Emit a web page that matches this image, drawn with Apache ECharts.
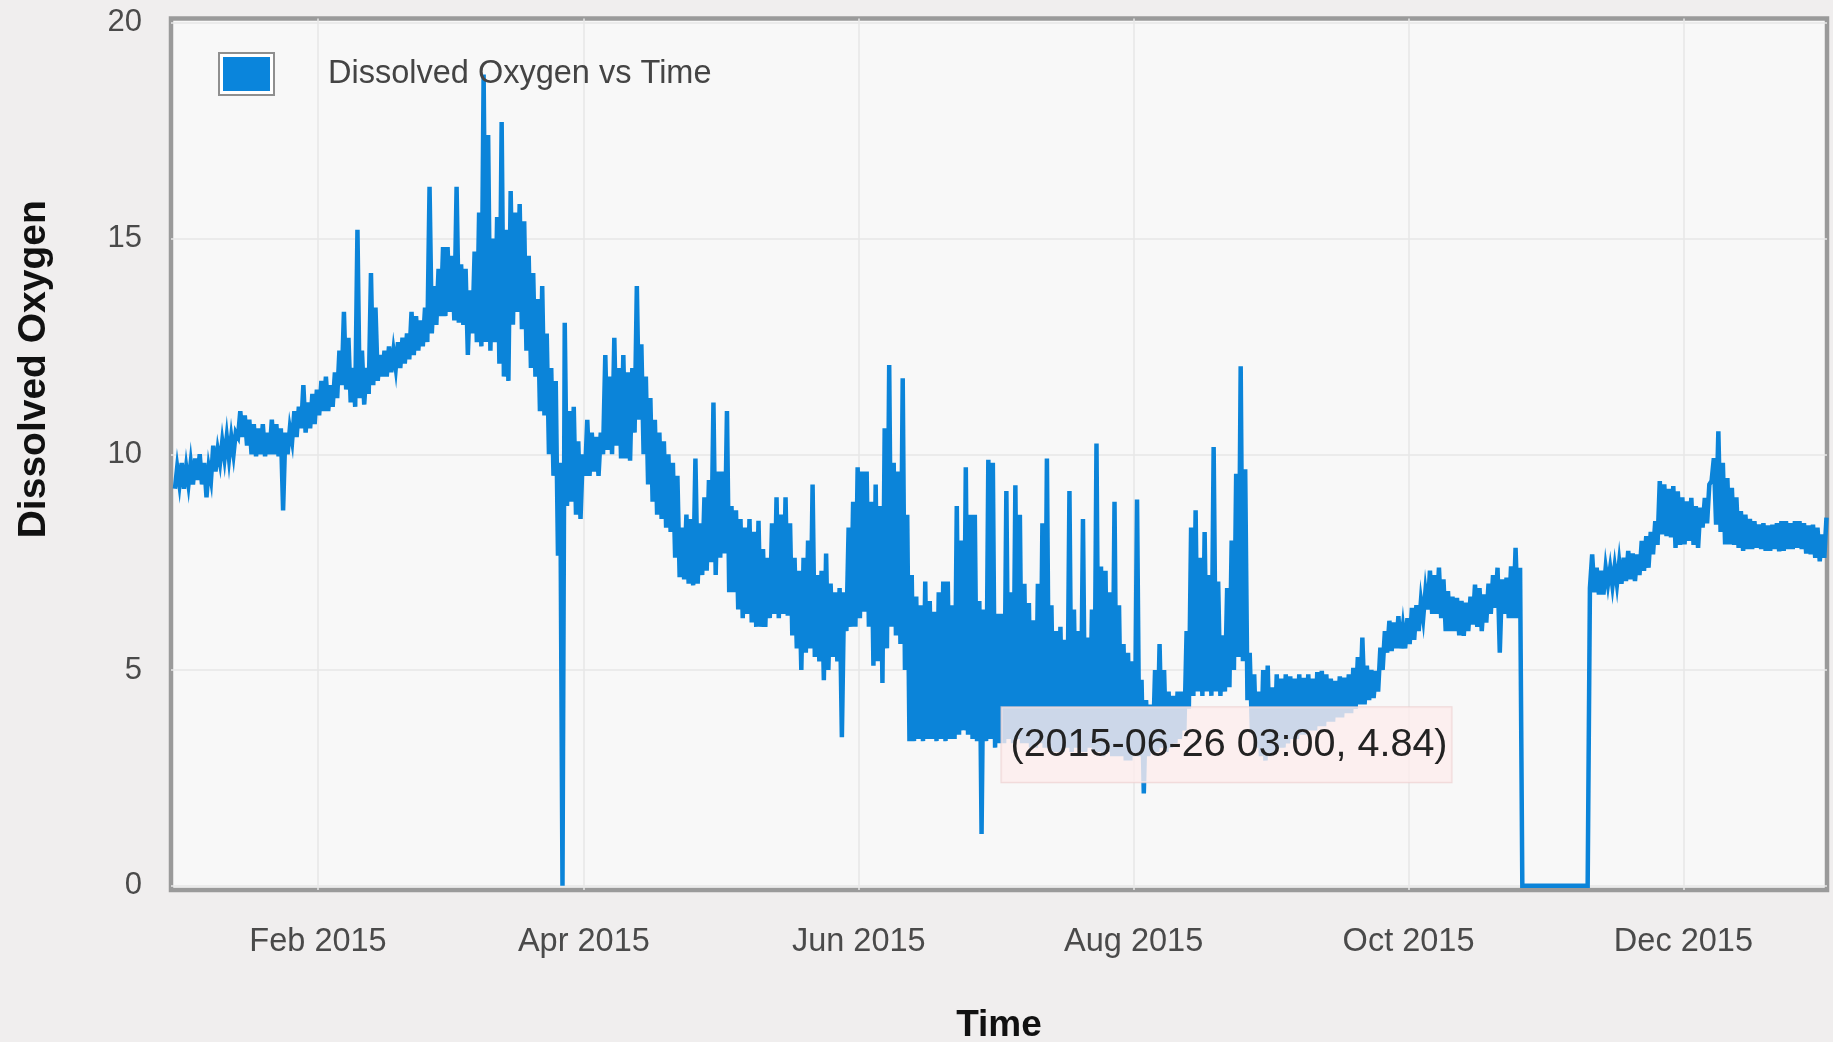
<!DOCTYPE html>
<html>
<head>
<meta charset="utf-8">
<script src="https://cdn.jsdelivr.net/npm/echarts@6/dist/echarts.min.js"></script>
<style>
html,body{margin:0;padding:0;background:#f0eeee;}
#chart{width:1833px;height:1042px;}
</style>
</head>
<body>
<div id="chart"></div>
<script>
// ---------- data ----------
const seriesName = 'Dissolved Oxygen vs Time';
const xAxisTitle = 'Time';
const yAxisTitle = 'Dissolved Oxygen';
const firstDay = '2014-12-31';          // first day of the daily readings
const xMin = '2014-12-30T09:00:00Z';
const xMax = '2016-01-01T20:40:00Z';

// daily low / high readings, Dec 31 2014 .. Jan 1 2016
const dailyLow = [
  9.2,
  // Jan
  9.3,9.2,9.3,9.3,9.4,9.3,9.0,9.4,9.6,9.8, 9.9,9.9,10.0,10.4,10.4,10.2,10.0,9.95,10.0,9.95, 10.0,10.0,9.95,8.7,10.0,10.3,10.4,10.6,10.5,10.6, 10.7,
  // Feb
  10.9,11.0,11.0,11.1,11.3,11.6,11.5,11.2,11.1,11.3, 11.15,11.4,11.6,11.7,11.8,11.8,11.9,12.0,12.0,12.1, 12.2,12.3,12.4,12.5,12.6,12.8,13.0,13.2,
  // Mar
  13.2,13.3,13.1,13.05,13.0,12.3,12.8,12.6,12.5,12.6, 12.4,12.6,12.1,11.8,11.7,13.0,13.3,12.9,12.4,12.0, 11.8,11.0,10.9,10.0,9.5,7.65,0,8.8,8.9,8.6, 8.5,
  // Apr
  9.5,9.5,9.6,9.5,10.0,10.1,10.0,10.2,9.9,9.9, 9.85,10.5,10.8,10.0,9.3,8.9,8.6,8.5,8.3,8.2, 7.6,7.15,7.1,7.0,6.96,7.0,7.2,7.3,7.5,7.2,
  // May
  7.6,7.7,6.8,6.8,6.4,6.2,6.3,6.1,6.0,6.0, 6.0,6.2,6.3,6.2,6.3,6.26,5.8,5.5,5.0,5.4, 5.5,5.3,5.2,4.76,5.0,5.3,5.2,3.44,5.9,6.0, 6.0,
  // Jun
  6.2,6.35,6.0,5.1,5.2,4.7,5.5,6.0,5.8,5.6, 5.0,3.35,3.35,3.4,3.35,3.4,3.4,3.35,3.4,3.35, 3.4,3.4,3.5,3.6,3.5,3.4,3.35,1.2,3.35,3.4,
  // Jul
  3.2,3.3,3.3,3.4,3.3,3.4,3.3,3.3,3.2,3.2, 3.3,3.2,3.2,3.1,3.1,3.1,3.2,3.1,3.2,3.1, 3.1,3.2,3.1,3.1,3.0,3.1,3.0,3.0,3.0,2.9, 2.9,
  // Aug
  3.0,3.0,2.14,3.0,3.1,3.1,3.2,3.1,3.2,3.3, 3.4,3.6,4.1,4.4,4.5,4.4,4.5,4.4,4.5,4.4, 4.5,4.6,5.0,5.3,5.2,4.3,3.6,3.2,3.0,2.9, 3.0,
  // Sep
  3.1,3.2,3.2,3.3,3.4,3.4,3.5,3.5,3.6,3.6, 3.7,3.7,3.8,3.8,3.9,3.9,4.0,4.0,4.1,4.2, 4.2,4.3,4.35,4.5,5.0,5.4,5.44,5.5,5.5,5.5,
  // Oct
  5.6,5.7,5.9,6.2,6.4,6.3,6.3,6.2,5.9,5.9, 5.9,5.8,5.79,5.9,6.05,6.0,5.9,6.1,6.3,6.44, 5.4,6.3,6.2,6.2,6.2,0,0,0,0,0, 0,
  // Nov
  0,0,0,0,0,0,0,0,0,6.9, 6.8,6.75,6.75,6.99,6.95,6.99,7.0,7.06,7.1,7.06, 7.2,7.3,7.37,7.68,7.9,8.14,8.1,8.07,7.83,7.9,
  // Dec
  7.91,7.99,7.9,7.83,8.3,8.4,9.38,8.37,8.2,7.91, 7.91,7.9,7.83,7.76,7.8,7.8,7.83,7.8,7.76,7.76, 7.8,7.75,7.76,7.8,7.8,7.83,7.8,7.7,7.68,7.6, 7.52,
  // Jan 1 2016
  7.6
];
const dailyHigh = [
  9.7,
  // Jan
  9.8,9.7,9.8,9.9,10.0,9.8,9.7,10.2,10.1,10.3, 10.4,10.4,10.5,11.0,10.9,10.8,10.7,10.6,10.7,10.5, 10.8,10.7,10.6,10.5,10.6,11.0,11.1,11.6,11.2,11.4, 11.5,
  // Feb
  11.7,11.8,11.6,11.9,12.4,13.3,12.7,12.0,15.2,12.4, 12.0,14.2,13.4,12.3,12.4,12.5,12.4,12.6,12.7,12.8, 13.3,13.2,13.1,13.4,16.2,13.9,14.3,14.8,
  // Mar
  14.8,14.6,16.2,14.4,14.3,13.8,14.7,15.6,18.8,17.4, 15.0,15.5,17.7,15.2,16.1,15.6,15.8,15.4,14.6,14.2, 13.6,13.9,12.8,12.0,11.7,9.8,13.05,11.0,11.1,10.3, 10.0,
  // Apr
  10.8,10.5,10.4,10.5,12.3,11.8,12.7,12.0,12.3,11.9, 12.0,13.9,12.55,11.8,11.3,10.8,10.5,10.3,10.0,9.8, 9.5,8.3,8.6,8.5,9.9,8.4,9.0,9.4,11.2,9.6,
  // May
  9.6,11.0,8.8,8.7,8.5,8.3,8.5,8.2,8.46,7.8, 7.6,8.4,9.0,8.6,9.0,8.4,7.6,7.3,7.6,8.0, 9.3,7.2,7.3,7.7,7.0,6.8,6.9,6.8,8.3,8.9, 9.7,
  // Jun
  9.6,9.6,8.9,9.3,8.8,10.6,12.07,9.8,9.6,11.76, 8.6,7.2,6.7,6.5,7.05,6.6,6.35,6.8,7.05,7.05, 6.5,8.8,8.0,9.7,8.6,8.6,6.6,6.4,9.87,9.8,
  // Jul
  6.3,6.3,9.15,6.8,9.28,8.6,7.0,6.55,6.15,7.0, 8.4,9.9,6.5,5.9,6.0,5.7,9.15,6.4,5.9,8.5, 5.75,6.4,10.25,7.4,7.3,6.8,8.9,6.5,5.6,5.4, 5.2,
  // Aug
  8.95,4.77,4.3,4.2,5.0,5.6,5.0,4.5,4.4,4.5, 4.5,5.9,8.3,8.7,7.6,8.2,7.2,10.17,7.05,5.8, 6.9,8.0,9.55,12.04,9.65,5.4,4.9,4.5,5.0,5.1, 4.6,
  // Sep
  4.9,4.8,4.9,4.85,4.8,4.9,4.82,4.9,4.8,4.95, 4.98,4.9,4.8,4.75,4.85,4.82,4.9,5.05,5.3,5.75, 5.1,5.0,4.98,5.52,5.9,6.14,6.1,6.25,6.0,6.2,
  // Oct
  6.44,6.5,6.6,6.83,7.3,7.2,7.37,7.1,6.83,6.7, 6.67,6.6,6.56,6.7,6.98,6.9,6.75,7.0,7.2,7.37, 7.1,7.14,7.4,7.83,7.37,0,0,0,0,0, 0,
  // Nov
  0,0,0,0,0,0,0,0,0,7.68, 7.37,7.3,7.37,7.37,7.4,7.5,7.6,7.76,7.7,7.68, 7.99,8.1,8.2,8.45,9.38,9.3,9.2,9.26,9.14,9.0,
  // Dec
  8.91,8.99,8.8,8.76,8.99,9.3,9.91,10.53,9.8,9.45, 9.22,9.0,8.68,8.6,8.5,8.45,8.37,8.4,8.35,8.37, 8.4,8.45,8.45,8.4,8.45,8.45,8.4,8.35,8.37,8.3, 8.14,
  // Jan 1 2016
  8.53
];

const xTickDates = ['2015-02-01','2015-04-01','2015-06-01','2015-08-01','2015-10-01','2015-12-01'];
const xTickLabels = ['Feb 2015','Apr 2015','Jun 2015','Aug 2015','Oct 2015','Dec 2015'];
const yTicks = [0, 5, 10, 15, 20];

const tooltipTime = '2015-06-26 03:00';
const tooltipValue = 4.84;

// ---------- build ----------
const DAY = 86400000;
const t0 = Date.parse(firstDay + 'T00:00:00Z');
const n = Math.min(dailyLow.length, dailyHigh.length);
const points = [];
for (let i = 0; i < n; i++) {
  points.push([t0 + i * DAY + DAY * 0.25, dailyLow[i]]);
  points.push([t0 + i * DAY + DAY * 0.75, dailyHigh[i]]);
}
const xTickTs = xTickDates.map(d => Date.parse(d + 'T00:00:00Z'));
const tipTs = Date.parse(tooltipTime.replace(' ', 'T') + ':00Z');

const FONT = '"Liberation Sans", Arial, Helvetica, sans-serif';
const legendIcon = 'image://data:image/svg+xml;utf8,' + encodeURIComponent(
  '<svg xmlns="http://www.w3.org/2000/svg" width="57" height="44" viewBox="0 0 57 44">' +
  '<rect x="1" y="1" width="55" height="42" fill="#ffffff" stroke="#8f8f8f" stroke-width="2"/>' +
  '<rect x="5" y="5" width="47" height="34" fill="#0a85dc"/></svg>');

const chart = echarts.init(document.getElementById('chart'), null, {renderer: 'canvas'});
chart.setOption({
  animation: false,
  backgroundColor: '#f0eeee',
  textStyle: {fontFamily: FONT},
  grid: {
    left: 171, right: 6, top: 18.5, bottom: 152,
    outerBoundsMode: 'none',
    containLabel: false,
    show: true, backgroundColor: '#f8f8f8',
    borderColor: '#9a9a9a', borderWidth: 4.5
  },
  legend: {
    left: 213, top: 47,
    itemWidth: 57, itemHeight: 44,
    icon: legendIcon,
    data: [seriesName],
    textStyle: {fontSize: 32.5, color: '#444444', fontFamily: FONT, padding: [0, 0, 0, 48]}
  },
  xAxis: {
    type: 'value',
    min: Date.parse(xMin), max: Date.parse(xMax),
    name: xAxisTitle, nameLocation: 'middle', nameGap: 117,
    nameTextStyle: {fontSize: 37, fontWeight: 'bold', color: '#111111', fontFamily: FONT},
    axisLine: {show: false},
    axisTick: {show: false, customValues: xTickTs},
    axisLabel: {
      customValues: xTickTs,
      fontSize: 32.5, color: '#4a4a4a', margin: 36, fontFamily: FONT,
      formatter: function (v) {
        const i = xTickTs.indexOf(+v);
        return i >= 0 ? xTickLabels[i] : '';
      }
    },
    splitLine: {show: true, lineStyle: {color: '#e7e7e7', width: 1.5}}
  },
  yAxis: {
    type: 'value',
    min: -0.1, max: 20.1,
    name: yAxisTitle, nameLocation: 'middle', nameRotate: 90, nameGap: 117,
    nameTextStyle: {fontSize: 39, fontWeight: 'bold', color: '#111111', fontFamily: FONT, padding: [0, 0, 0, 170]},
    axisLine: {show: false},
    axisTick: {show: false, customValues: yTicks},
    axisLabel: {customValues: yTicks, fontSize: 31, color: '#4a4a4a', margin: 29, fontFamily: FONT},
    splitLine: {show: true, lineStyle: {color: '#e7e7e7', width: 1.5}}
  },
  series: [{
    name: seriesName,
    type: 'line',
    data: points,
    showSymbol: false,
    symbol: 'none',
    clip: false,
    color: '#0a85dc',
    lineStyle: {width: 4.5, color: '#0b84d9', join: 'miter'},
    markPoint: {
      symbol: 'circle', symbolSize: 1,
      itemStyle: {color: 'rgba(0,0,0,0)'},
      label: {
        show: true,
        position: [30, 31],
        align: 'left', verticalAlign: 'top',
        formatter: '(' + tooltipTime + ', ' + tooltipValue.toFixed(2) + ')',
        fontSize: 39.5, lineHeight: 42, color: '#222222', fontFamily: FONT,
        backgroundColor: 'rgba(253,236,236,0.8)',
        borderColor: 'rgba(236,208,208,0.8)', borderWidth: 1,
        padding: [17, 4, 16, 9]
      },
      data: [{coord: [tipTs, tooltipValue], value: tooltipValue}]
    }
  }]
});
</script>
</body>
</html>
